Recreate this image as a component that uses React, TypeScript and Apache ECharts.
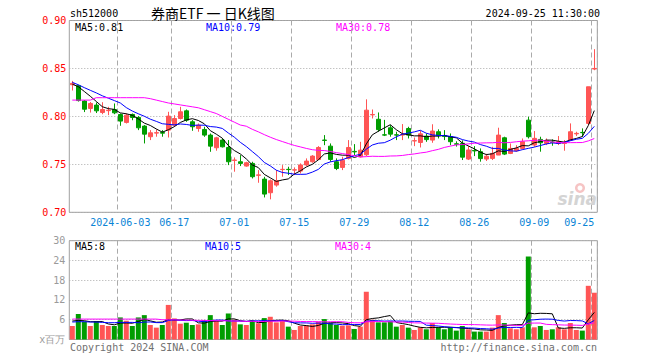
import React, { useEffect, useRef } from 'react';
import * as echarts from 'echarts';

const dates = [
  '2024-05-22','2024-05-23','2024-05-24','2024-05-27','2024-05-28','2024-05-29','2024-05-30','2024-05-31',
  '2024-06-03','2024-06-04','2024-06-05','2024-06-06','2024-06-07','2024-06-11','2024-06-12','2024-06-13','2024-06-14',
  '2024-06-17','2024-06-18','2024-06-19','2024-06-20','2024-06-21','2024-06-24','2024-06-25','2024-06-26','2024-06-27','2024-06-28',
  '2024-07-01','2024-07-02','2024-07-03','2024-07-04','2024-07-05','2024-07-08','2024-07-09','2024-07-10','2024-07-11','2024-07-12',
  '2024-07-15','2024-07-16','2024-07-17','2024-07-18','2024-07-19','2024-07-22','2024-07-23','2024-07-24','2024-07-25','2024-07-26',
  '2024-07-29','2024-07-30','2024-07-31','2024-08-01','2024-08-02','2024-08-05','2024-08-06','2024-08-07','2024-08-08','2024-08-09',
  '2024-08-12','2024-08-13','2024-08-14','2024-08-15','2024-08-16','2024-08-19','2024-08-20','2024-08-21','2024-08-22','2024-08-23',
  '2024-08-26','2024-08-27','2024-08-28','2024-08-29','2024-08-30','2024-09-02','2024-09-03','2024-09-04','2024-09-05','2024-09-06',
  '2024-09-09','2024-09-10','2024-09-11','2024-09-12','2024-09-13','2024-09-18','2024-09-19','2024-09-20','2024-09-23','2024-09-24',
  '2024-09-25'
];

const opens = [
  0.8330,0.8320,0.8160,0.8083,0.8118,0.8041,0.8060,0.8072,0.8020,0.7937,
  0.8020,0.7989,0.7899,0.7788,0.7826,0.7832,0.7857,0.7909,0.7978,0.8058,
  0.7944,0.7874,0.7864,0.7805,0.7673,0.7753,0.7676,0.7541,0.7527,0.7482,
  0.7510,0.7386,0.7346,0.7204,0.7284,0.7445,0.7448,0.7440,0.7430,0.7494,
  0.7527,0.7551,0.7753,0.7690,0.7527,0.7468,0.7562,0.7635,0.7579,0.7600,
  0.8016,0.7970,0.7808,0.7881,0.7808,0.7805,0.7874,0.7744,0.7728,0.7794,
  0.7753,0.7840,0.7800,0.7790,0.7714,0.7720,0.7555,0.7645,0.7632,0.7555,
  0.7562,0.7597,0.7777,0.7614,0.7642,0.7666,0.7961,0.7701,0.7760,0.7718,
  0.7733,0.7718,0.7718,0.7753,0.7818,0.7833,0.7927,0.8494
];
const closes = [
  0.8345,0.8165,0.8075,0.8135,0.8058,0.8072,0.8065,0.8037,0.7951,0.8013,
  0.7989,0.7881,0.7815,0.7829,0.7830,0.7825,0.8003,0.7978,0.8048,0.7961,
  0.7892,0.7909,0.7805,0.7690,0.7777,0.7683,0.7527,0.7545,0.7510,0.7517,
  0.7371,0.7390,0.7190,0.7329,0.7329,0.7448,0.7445,0.7443,0.7494,0.7534,
  0.7586,0.7676,0.7750,0.7551,0.7457,0.7544,0.7676,0.7630,0.7648,0.8065,
  0.8020,0.7862,0.7805,0.7815,0.7805,0.7812,0.7805,0.7747,0.7818,0.7758,
  0.7847,0.7800,0.7790,0.7736,0.7710,0.7575,0.7650,0.7640,0.7560,0.7585,
  0.7614,0.7805,0.7607,0.7666,0.7666,0.7736,0.7788,0.7771,0.7725,0.7746,
  0.7730,0.7736,0.7722,0.7840,0.7823,0.7830,0.8309,0.8500
];
const lows = [
  0.8270,0.8155,0.8045,0.8040,0.8035,0.8023,0.8013,0.8023,0.7902,0.7926,
  0.7960,0.7857,0.7718,0.7753,0.7788,0.7788,0.7780,0.7892,0.7968,0.7944,
  0.7850,0.7840,0.7787,0.7631,0.7642,0.7676,0.7492,0.7423,0.7482,0.7475,
  0.7353,0.7308,0.7155,0.7135,0.7267,0.7371,0.7388,0.7388,0.7405,0.7482,
  0.7517,0.7545,0.7700,0.7527,0.7440,0.7440,0.7551,0.7596,0.7572,0.7586,
  0.7978,0.7840,0.7795,0.7788,0.7753,0.7753,0.7770,0.7690,0.7676,0.7735,
  0.7725,0.7770,0.7753,0.7700,0.7685,0.7545,0.7545,0.7586,0.7528,0.7535,
  0.7545,0.7597,0.7597,0.7607,0.7632,0.7656,0.7770,0.7684,0.7632,0.7701,
  0.7694,0.7701,0.7642,0.7746,0.7795,0.7788,0.7909,0.8482
];
const highs = [
  0.8370,0.8330,0.8170,0.8150,0.8145,0.8148,0.8100,0.8135,0.8030,0.8030,
  0.8030,0.8003,0.7909,0.7857,0.7864,0.7857,0.8048,0.8013,0.8100,0.8072,
  0.7961,0.7926,0.7892,0.7822,0.7787,0.7770,0.7753,0.7572,0.7596,0.7527,
  0.7527,0.7440,0.7370,0.7343,0.7440,0.7492,0.7475,0.7468,0.7510,0.7562,
  0.7596,0.7690,0.7805,0.7718,0.7562,0.7579,0.7753,0.7711,0.7735,0.8178,
  0.8072,0.8041,0.7964,0.7909,0.7840,0.7920,0.7892,0.7780,0.7850,0.7822,
  0.7918,0.7865,0.7857,0.7822,0.7740,0.7750,0.7690,0.7690,0.7666,0.7610,
  0.7683,0.7882,0.7788,0.7718,0.7700,0.7770,0.7996,0.7847,0.7788,0.7770,
  0.7760,0.7795,0.7754,0.7927,0.7840,0.7875,0.8309,0.8701
];
// volume, millions
const volumes = [
  4.1,7.75,5.4,4.1,5.6,4.4,4.1,4.1,6.7,5.7,
  4.1,6.7,7.4,4.4,3.6,4.4,10.5,6.4,4.8,5.1,
  4.4,4.6,5.9,7.4,5.6,4.4,7.9,6.0,4.6,4.4,
  5.7,4.9,6.5,6.9,5.2,5.9,3.9,2.9,4.1,4.3,
  4.6,5.4,6.2,5.0,4.4,4.2,4.3,3.2,3.9,14.5,
  6.0,5.2,5.2,5.5,3.9,4.4,3.6,2.9,3.7,3.1,
  5.0,3.7,3.1,3.7,2.7,4.1,3.1,2.4,2.4,2.4,
  3.6,7.4,5.0,3.4,3.1,3.7,25.2,3.7,4.1,2.9,
  3.1,3.7,3.1,5.0,2.9,2.7,16.3,14.2
];

// moving-average values at the left edge (their windows start before the shown range)
const ma5Head = [0.8336, 0.8310, 0.8260, 0.8210];
const ma10Head = [0.8355, 0.8330, 0.8300, 0.8272, 0.8245, 0.8215, 0.8190, 0.8165, 0.8140];
const ma30Head = [
  0.817, 0.817, 0.817, 0.817,
  0.8195, 0.8195, 0.8195, 0.8195, 0.8195, 0.8195, 0.8195, 0.8195, 0.8195,
  0.8185, 0.817, 0.8155, 0.814, 0.813, 0.812, 0.811, 0.810, 0.809, 0.807, 0.805, 0.803, 0.800, 0.797, 0.794, 0.791
];
const volMa5Head = [5.6, 5.8, 5.7, 5.4];
const volMa10Head = [5.3, 5.4, 5.4, 5.3, 5.3, 5.2, 5.1, 5.1, 5.2];
const volMa30Head = [
  6.2, 6.2, 6.2, 6.2, 6.2, 6.2, 6.2, 6.2, 6.2, 6.2, 6.2, 6.2, 6.2, 6.2, 6.2,
  6.0, 6.0, 5.95, 5.9, 5.9, 5.85, 5.8, 5.8, 5.75, 5.7, 5.7, 5.65, 5.6, 5.6
];

const dateTickIdx = [8, 17, 27, 37, 47, 57, 67, 77, 87];
const priceMaLabels = ['MA5:0.81', 'MA10:0.79', 'MA30:0.78'];
const volMaLabels = ['MA5:8', 'MA10:5', 'MA30:4'];
const titleCode = 'sh512000';
const titleName = '券商ETF 一 日K线图';
const titleTime = '2024-09-25 11:30:00';

const UP = '#ff5555';
const DOWN = '#009d00';
const MONO = '"DejaVu Sans Mono", monospace';
const GRIDC = '#aaaaaa';

function movingAvg(vals: number[], n: number, head: number[]) {
  return vals.map((_, i) => {
    if (i < n - 1) return head[i];
    let s = 0;
    for (let k = i - n + 1; k <= i; k++) s += vals[k];
    return +(s / n).toFixed(5);
  });
}

export default function App() {
  const ref = useRef<HTMLDivElement>(null);
  useEffect(() => {
    if (!ref.current) return;
    const chart = echarts.init(ref.current, null, { renderer: 'svg' });
    const isTick = (i: number) => dateTickIdx.includes(i);
    const candle = dates.map((_, i) => [opens[i], closes[i], lows[i], highs[i]]);
    const volData = volumes.map((v, i) => ({
      value: v,
      itemStyle: { color: closes[i] >= opens[i] ? UP : DOWN },
    }));
    const lineS = (data: number[], color: string, xi: number) => ({
      type: 'line', data, xAxisIndex: xi, yAxisIndex: xi, symbol: 'none', showSymbol: false,
      lineStyle: { width: 1, color }, itemStyle: { color }, z: 5, silent: true,
    });
    const txt = (text: string, x: number, y: number, fill: string, font: string, align = 'left') => ({
      type: 'text', x, y, silent: true,
      style: { text, fill, font, textAlign: align, align, textVerticalAlign: 'middle', verticalAlign: 'middle' },
    });
    const splitX = {
      show: true,
      interval: (i: number) => isTick(i),
      lineStyle: { color: GRIDC, type: [5, 3], width: 1 },
    };
    chart.setOption({
      animation: false,
      backgroundColor: '#ffffff',
      grid: [
        { left: 69.3, top: 20.5, width: 528, height: 191.8, show: true, borderColor: '#a0a0a0', borderWidth: 1 },
        { left: 69.3, top: 240.7, width: 528, height: 98.8, show: true, borderColor: '#a0a0a0', borderWidth: 1 },
      ],
      xAxis: [
        {
          type: 'category', gridIndex: 0, data: dates, boundaryGap: true,
          axisLine: { show: false }, axisTick: { show: false },
          axisLabel: {
            interval: (i: number) => isTick(i),
            formatter: (v: string, i: number) => (i === dateTickIdx[0] ? v : v.slice(5)),
            color: '#0a84d6', fontFamily: MONO, fontSize: 10, margin: 5,
            showMaxLabel: true, alignMaxLabel: 'right',
          },
          splitLine: splitX,
        },
        {
          type: 'category', gridIndex: 1, data: dates, boundaryGap: true,
          axisLine: { show: false }, axisTick: { show: false }, axisLabel: { show: false },
          splitLine: splitX,
        },
      ],
      yAxis: [
        {
          type: 'value', gridIndex: 0, min: 0.7, max: 0.9, interval: 0.05, scale: true,
          axisLine: { show: false }, axisTick: { show: false },
          axisLabel: { color: '#ff0000', fontFamily: MONO, fontSize: 10, margin: 3, formatter: (v: number) => v.toFixed(2) },
          splitLine: { show: true, lineStyle: { color: GRIDC, type: [1, 2], width: 1 } },
        },
        {
          type: 'value', gridIndex: 1, min: 0, max: 30, interval: 6,
          axisLine: { show: false }, axisTick: { show: false },
          axisLabel: {
            color: '#9a9a9a', fontFamily: MONO, fontSize: 10, margin: 4,
            formatter: (v: number) => (v === 0 ? 'x百万' : String(v)),
          },
          splitLine: { show: true, lineStyle: { color: GRIDC, type: [1, 2], width: 1 } },
        },
      ],
      series: [
        {
          type: 'candlestick', xAxisIndex: 0, yAxisIndex: 0, data: candle, barWidth: 5,
          itemStyle: { color: UP, color0: DOWN, borderColor: UP, borderColor0: DOWN, borderWidth: 1 },
          z: 3,
        },
        lineS(movingAvg(closes, 5, ma5Head), '#000000', 0),
        lineS(movingAvg(closes, 10, ma10Head), '#0000ff', 0),
        lineS(movingAvg(closes, 30, ma30Head), '#ff00ff', 0),
        { type: 'bar', xAxisIndex: 1, yAxisIndex: 1, data: volData, barWidth: 5, z: 3 },
        lineS(movingAvg(volumes, 5, volMa5Head), '#000000', 1),
        lineS(movingAvg(volumes, 10, volMa10Head), '#0000ff', 1),
        lineS(movingAvg(volumes, 30, volMa30Head), '#ff00ff', 1),
      ],
      graphic: [
        txt(titleCode, 70, 13, '#000', `10px ${MONO}`),
        txt(titleName, 151, 13, '#000', '14px "Noto Sans CJK SC", sans-serif'),
        txt(titleTime, 600, 13, '#000', `10px ${MONO}`, 'right'),
        txt(priceMaLabels[0], 75, 27, '#000000', `10px ${MONO}`),
        txt(priceMaLabels[1], 206, 27, '#0000ff', `10px ${MONO}`),
        txt(priceMaLabels[2], 336, 27, '#ff00ff', `10px ${MONO}`),
        txt(volMaLabels[0], 75, 246, '#000000', `10px ${MONO}`),
        txt(volMaLabels[1], 205, 246, '#0000ff', `10px ${MONO}`),
        txt(volMaLabels[2], 335, 246, '#ff00ff', `10px ${MONO}`),
        txt('Copyright 2024 SINA.COM', 70, 347, '#707070', `10px ${MONO}`),
        txt('http://finance.sina.com.cn', 597, 347, '#707070', `10px ${MONO}`, 'right'),
        { type: 'ring', silent: true, shape: { cx: 580, cy: 188, r: 5, r0: 2.5 }, style: { fill: '#f6c4c4' } },
        txt('sina', 597, 199, '#d4d4d4', 'italic bold 17px "DejaVu Sans", sans-serif', 'right'),
      ],
    });
    return () => chart.dispose();
  }, []);
  return <div ref={ref} style={{ position: 'fixed', left: 0, top: 0, width: 660, height: 360, background: '#fff' }} />;
}
